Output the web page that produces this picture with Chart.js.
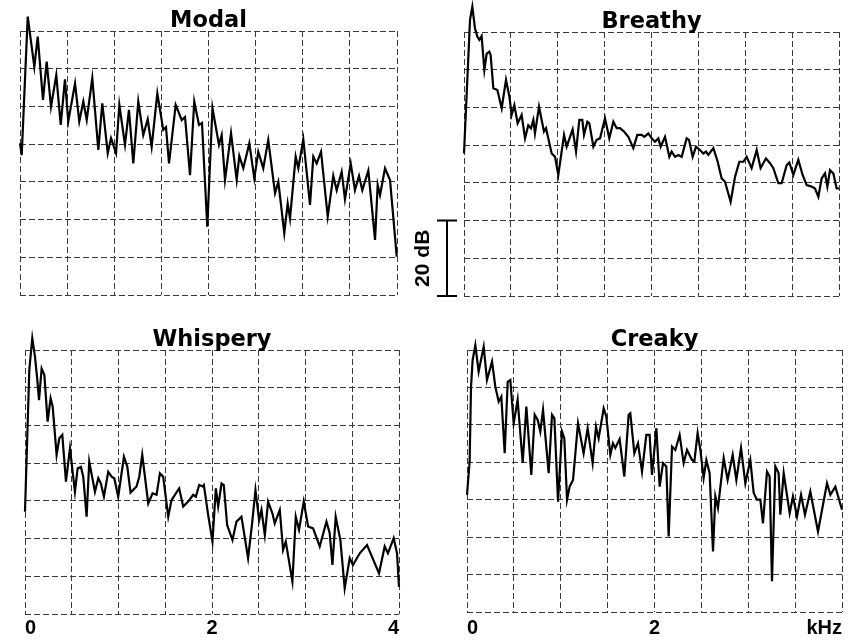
<!DOCTYPE html>
<html>
<head>
<meta charset="utf-8">
<script src="https://cdn.jsdelivr.net/npm/chart.js@4.4.0/dist/chart.umd.min.js"></script>
<style>
html,body{margin:0;padding:0;background:#fff;}
#wrap{position:relative;width:851px;height:640px;overflow:hidden;background:#fff;}
canvas{position:absolute;}
</style>
</head>
<body>
<div id="wrap">
<canvas id="cModal" width="425" height="320" style="left:0px;top:0px"></canvas>
<canvas id="cBreathy" width="446" height="320" style="left:405px;top:0px"></canvas>
<canvas id="cWhispery" width="425" height="320" style="left:0px;top:320px"></canvas>
<canvas id="cCreaky" width="426" height="320" style="left:425px;top:320px"></canvas>
</div>
<script>
// ---- data (frequency in kHz, level in dB) ----
const modalFreq = [0.00,0.018,0.082,0.152,0.188,0.244,0.283,0.329,0.385,0.432,0.477,0.512,0.584,0.629,0.672,0.708,0.767,0.831,0.873,0.931,0.966,1.019,1.054,1.114,1.156,1.202,1.255,1.308,1.355,1.397,1.457,1.520,1.549,1.581,1.652,1.716,1.751,1.804,1.849,1.899,1.931,1.987,2.042,2.111,2.140,2.175,2.239,2.299,2.327,2.369,2.433,2.486,2.528,2.581,2.634,2.706,2.741,2.804,2.840,2.865,2.925,2.953,3.006,3.077,3.112,3.148,3.194,3.265,3.324,3.360,3.413,3.448,3.509,3.554,3.597,3.632,3.696,3.767,3.795,3.820,3.873,3.926,3.997];
const modalDb = [40.2,37.1,73.8,60.5,68.5,51.7,61.9,49.9,58.3,45.1,57.2,46.0,56.1,46.0,51.3,46.4,57.5,38.5,50.8,37.6,41.6,37.6,50.4,39.8,49.1,34.9,51.3,42.4,46.6,39.3,53.5,43.8,44.5,34.9,50.4,46.4,47.2,31.8,51.3,45.1,45.6,18.1,49.6,39.8,42.4,30.5,42.9,30.5,36.9,33.6,40.2,30.9,38.0,33.6,41.1,27.0,30.0,16.4,24.3,20.3,36.7,33.6,41.3,23.9,36.7,34.9,38.0,20.8,31.6,27.8,32.7,25.4,34.9,27.8,31.6,27.8,33.0,14.6,29.2,26.5,33.6,30.5,10.2];

const breathyFreq = [0.0,0.064,0.089,0.117,0.142,0.164,0.188,0.217,0.242,0.270,0.284,0.313,0.356,0.402,0.448,0.484,0.508,0.537,0.572,0.615,0.651,0.686,0.715,0.740,0.757,0.800,0.853,0.875,0.935,0.971,1.006,1.067,1.095,1.159,1.195,1.230,1.262,1.280,1.316,1.337,1.380,1.415,1.451,1.504,1.550,1.593,1.628,1.664,1.707,1.753,1.806,1.849,1.895,1.924,1.966,2.002,2.037,2.073,2.098,2.144,2.190,2.215,2.251,2.286,2.322,2.375,2.400,2.439,2.475,2.517,2.553,2.581,2.606,2.660,2.706,2.748,2.784,2.844,2.891,2.937,2.980,3.015,3.068,3.122,3.164,3.221,3.264,3.300,3.353,3.388,3.442,3.470,3.513,3.566,3.612,3.655,3.708,3.744,3.780,3.815,3.851,3.876,3.904,3.940,3.975,4.0];
const breathyDb = [37.8,73.2,76.7,71.0,68.8,67.9,68.9,59.9,64.3,64.8,63.9,55.1,54.6,49.8,57.3,52.9,48.0,50.6,45.8,48.0,41.8,45.3,44.5,46.7,43.1,50.2,43.6,44.5,37.8,36.9,32.1,42.7,39.6,44.2,38.3,46.7,46.7,42.7,46.2,45.8,39.6,41.4,41.8,47.1,41.8,46.2,44.5,44.5,43.6,42.2,39.2,42.7,42.7,42.2,43.1,41.8,40.9,41.8,39.6,42.2,36.9,38.3,36.9,37.4,36.9,41.8,41.4,36.9,39.6,38.7,37.8,38.3,37.4,39.2,35.6,31.2,30.3,25.0,31.6,35.6,35.6,36.9,33.9,38.7,33.9,36.5,35.2,33.9,29.9,29.9,34.7,35.4,32.1,36.1,32.1,29.4,29.0,28.5,26.3,31.2,32.5,29.0,33.4,32.5,28.5,28.5];

const whisperyFreq = [0.0,0.046,0.078,0.107,0.132,0.150,0.178,0.207,0.242,0.274,0.296,0.338,0.367,0.399,0.438,0.481,0.534,0.563,0.598,0.623,0.659,0.687,0.748,0.784,0.812,0.844,0.890,0.926,0.955,0.997,1.058,1.094,1.129,1.193,1.222,1.254,1.318,1.364,1.407,1.443,1.478,1.532,1.567,1.603,1.649,1.692,1.745,1.799,1.827,1.863,1.899,1.913,1.959,2.005,2.041,2.066,2.102,2.126,2.162,2.219,2.262,2.315,2.386,2.429,2.465,2.504,2.529,2.565,2.600,2.646,2.671,2.725,2.760,2.789,2.860,2.896,2.931,2.981,3.028,3.081,3.152,3.224,3.259,3.288,3.323,3.373,3.419,3.473,3.508,3.580,3.658,3.704,3.786,3.847,3.882,3.943,3.979,4.0];
const whisperyDb = [27.1,64.7,73.1,68.2,62.0,56.7,65.1,63.4,51.0,57.2,55.0,42.2,46.6,47.5,35.1,43.9,32.4,38.6,39.0,36.4,25.8,40.4,32.4,36.0,34.6,31.1,37.7,36.4,36.0,31.1,41.7,39.1,32.2,33.8,36.4,42.2,29.3,32.0,31.6,37.3,36.4,25.8,30.2,31.6,33.3,28.5,29.8,31.6,31.1,34.2,33.8,34.2,26.3,19.2,33.3,28.5,34.6,34.2,23.6,19.6,24.5,25.8,14.8,24.0,32.9,24.9,27.6,20.9,29.8,26.7,24.0,27.6,17.0,19.2,8.6,25.8,22.3,29.8,23.2,22.7,17.9,24.5,21.4,13.0,25.8,19.6,6.8,14.8,13.0,16.1,18.3,15.6,10.8,17.9,16.1,20.1,16.1,7.2];

const creakyFreq = [0.0,0.028,0.043,0.060,0.089,0.124,0.178,0.213,0.267,0.302,0.338,0.366,0.402,0.434,0.462,0.498,0.540,0.594,0.633,0.686,0.722,0.754,0.782,0.811,0.871,0.907,0.932,0.971,1.013,1.038,1.067,1.095,1.131,1.184,1.244,1.287,1.340,1.376,1.404,1.458,1.486,1.529,1.557,1.582,1.628,1.678,1.724,1.742,1.785,1.824,1.867,1.913,1.948,1.973,2.020,2.055,2.091,2.126,2.151,2.187,2.222,2.268,2.311,2.347,2.400,2.425,2.460,2.489,2.524,2.553,2.588,2.624,2.649,2.677,2.738,2.780,2.834,2.873,2.923,2.969,3.022,3.058,3.093,3.129,3.157,3.200,3.228,3.253,3.289,3.324,3.342,3.378,3.442,3.477,3.520,3.563,3.605,3.662,3.744,3.840,3.876,3.929,4.0];
const creakyDb = [31.3,40.2,60.2,67.3,71.3,64.2,70.9,62.0,66.9,60.2,56.2,57.5,42.4,61.5,62.0,50.4,56.7,39.8,54.9,36.6,52.7,51.3,48.2,54.0,37.1,52.7,51.8,29.5,48.2,46.4,30.0,33.5,35.3,50.4,42.4,49.1,39.8,49.5,46.4,54.4,52.2,42.0,45.1,43.8,46.2,36.2,52.7,53.1,42.4,45.1,37.5,47.3,47.3,36.6,49.1,33.5,39.8,38.9,20.2,44.2,43.3,47.3,39.8,43.3,40.6,40.2,47.8,43.3,35.8,40.6,37.1,16.2,30.9,27.8,41.1,35.3,42.0,35.3,43.8,34.4,40.6,31.8,30.0,30.0,23.7,37.5,36.2,8.2,38.9,37.1,26.0,37.1,26.4,30.9,25.5,31.3,26.0,32.2,21.5,34.4,31.3,33.5,27.3];

// ---- ticks / labels ----
const dbTicks = [0,10,20,30,40,50,60,70];
const freqTicks = [0,0.5,1,1.5,2,2.5,3,3.5,4];
const whisperyTickLabels = ['0','','','','2','','','','4'];
const creakyTickLabels = ['0','','','','2','','','','kHz'];
const scaleBarDb = [0, 20];
const scaleBarLabel = '20 dB';

const GRID = '#3a3a3a';

const titlePlugin = {
  id: 'panelTitle',
  afterDraw(chart, args, o) {
    if (!o || !o.text) return;
    const {ctx, chartArea} = chart;
    ctx.save();
    ctx.font = 'bold 22.5px "DejaVu Sans", sans-serif';
    ctx.fillStyle = '#000';
    ctx.textAlign = 'center';
    ctx.textBaseline = 'alphabetic';
    ctx.fillText(o.text, (chartArea.left + chartArea.right) / 2, chartArea.top - 4);
    ctx.restore();
  }
};

const barPlugin = {
  id: 'dbBar',
  afterDraw(chart, args, o) {
    if (!o || !o.label) return;
    const {ctx, chartArea} = chart;
    const ys = chart.scales.y;
    const x = chartArea.left + o.dx;
    const y0 = ys.getPixelForValue(o.from), y1 = ys.getPixelForValue(o.to);
    ctx.save();
    ctx.strokeStyle = '#000';
    ctx.lineWidth = 2;
    ctx.beginPath();
    ctx.moveTo(x, y0); ctx.lineTo(x, y1);
    ctx.moveTo(x - 10, y0); ctx.lineTo(x + 10, y0);
    ctx.moveTo(x - 10, y1); ctx.lineTo(x + 10, y1);
    ctx.stroke();
    ctx.translate(chartArea.left + o.textDx, (y0 + y1) / 2);
    ctx.rotate(-Math.PI / 2);
    ctx.font = 'bold 21px "Liberation Sans", Arial, sans-serif';
    ctx.fillStyle = '#000';
    ctx.textAlign = 'center';
    ctx.textBaseline = 'middle';
    ctx.fillText(o.label, 0, 0);
    ctx.restore();
  }
};

function pts(f, d) { return f.map((x, i) => ({x: x, y: d[i]})); }

function makePanel(id, freq, db, title, cfg) {
  const labels = cfg.labels || null;
  const plugins = [titlePlugin];
  if (cfg.bar) plugins.push(barPlugin);
  return new Chart(document.getElementById(id), {
    type: 'line',
    data: { datasets: [{
      data: pts(freq, db),
      borderColor: '#000',
      borderWidth: 2.2,
      pointRadius: 0,
      tension: 0,
      clip: false,
      fill: false
    }]},
    options: {
      responsive: false,
      animation: false,
      events: [],
      layout: { padding: cfg.pad },
      plugins: {
        legend: { display: false },
        tooltip: { enabled: false },
        panelTitle: { text: title },
        dbBar: cfg.bar || {}
      },
      scales: {
        x: {
          type: 'linear', min: 0, max: 4,
          afterBuildTicks: s => { s.ticks = freqTicks.map(v => ({value: v})); },
          grid: { color: GRID, lineWidth: 1, drawTicks: false },
          border: { display: false, dash: [6, 3] },
          ticks: {
            display: !!labels, autoSkip: false, maxRotation: 0, minRotation: 0,
            align: 'inner', padding: cfg.tickPad || 0, color: '#000',
            font: { family: '"Liberation Sans", Arial, sans-serif', size: 20, weight: 'bold', lineHeight: 1 },
            callback: (v, i) => labels ? labels[i] : ''
          },
          afterFit: s => { s.height = cfg.axisH || 0; s.paddingLeft = 0; s.paddingRight = 0; }
        },
        y: {
          type: 'linear', min: 0, max: 70,
          afterBuildTicks: s => { s.ticks = dbTicks.map(v => ({value: v})); },
          grid: { color: GRID, lineWidth: 1, drawTicks: false },
          border: { display: false, dash: [6, 3] },
          ticks: { display: false },
          afterFit: s => { s.width = 0; s.paddingTop = 0; s.paddingBottom = 0; }
        }
      }
    },
    plugins: plugins
  });
}

makePanel('cModal', modalFreq, modalDb, 'Modal',
  { pad: {left: 20, right: 28, top: 31, bottom: 25} });
makePanel('cBreathy', breathyFreq, breathyDb, 'Breathy',
  { pad: {left: 59, right: 12, top: 32, bottom: 24},
    bar: { from: scaleBarDb[0], to: scaleBarDb[1], label: scaleBarLabel, dx: -17, textDx: -41 } });
makePanel('cWhispery', whisperyFreq, whisperyDb, 'Whispery',
  { pad: {left: 25, right: 26, top: 30, bottom: 0}, labels: whisperyTickLabels, tickPad: 4, axisH: 26 });
makePanel('cCreaky', creakyFreq, creakyDb, 'Creaky',
  { pad: {left: 42, right: 9, top: 30, bottom: 0}, labels: creakyTickLabels, tickPad: 6, axisH: 28 });
</script>
</body>
</html>
